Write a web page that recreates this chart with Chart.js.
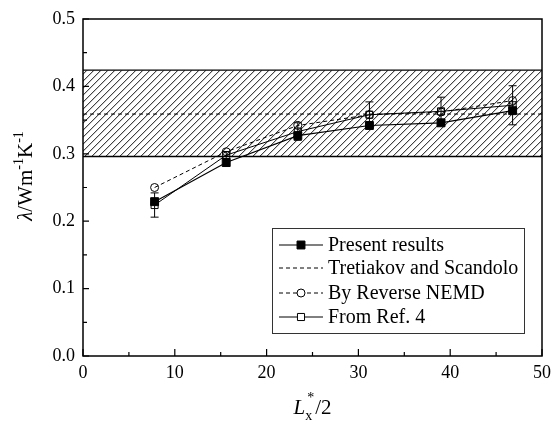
<!DOCTYPE html>
<html>
<head>
<meta charset="utf-8">
<script src="https://cdn.jsdelivr.net/npm/chart.js@4/dist/chart.umd.min.js"></script>
<style>
html,body{margin:0;padding:0;background:#fff;}
#wrap{width:557px;height:422px;position:relative;}
</style>
</head>
<body>
<div id="wrap"><canvas id="c" width="557" height="422"></canvas></div>
<script>
// ---- data ----
const xValues = [7.8, 15.6, 23.4, 31.2, 39.0, 46.8];
const presentResults = [0.229, 0.287, 0.327, 0.342, 0.346, 0.364];
const reverseNEMD = [0.250, 0.303, 0.342, 0.358, 0.362, 0.379];
const fromRef4 = [0.224, 0.298, 0.333, 0.358, 0.363, 0.372];
const fromRef4Err = [0.018, 0.005, 0.013, 0.019, 0.021, 0.029];
const tretiakovValue = 0.359;
const bandLow = 0.296;
const bandHigh = 0.424;
const xMajorTicks = [0, 10, 20, 30, 40, 50];
const xMinorTicks = [5, 15, 25, 35, 45];
const yMajorTicks = [0, 0.1, 0.2, 0.3, 0.4, 0.5];
const yMinorTicks = [0.05, 0.15, 0.25, 0.35, 0.45];
const legendLabels = ['Present results', 'Tretiakov and Scandolo', 'By Reverse NEMD', 'From Ref. 4'];

const FONT = '"Liberation Serif", "Times New Roman", serif';
Chart.defaults.font.family = FONT;
const pts = ys => xValues.map((x, i) => ({x: x, y: ys[i]}));

const decor = {
  id: 'decor',
  beforeDatasetsDraw(chart) {
    const {ctx, chartArea: a, scales: {x, y}} = chart;
    const yt = y.getPixelForValue(bandHigh), yb = y.getPixelForValue(bandLow);
    ctx.save();
    ctx.beginPath(); ctx.rect(a.left, yt, a.right - a.left, yb - yt); ctx.clip();
    ctx.strokeStyle = '#111'; ctx.lineWidth = 1;
    const h = yb - yt;
    for (let sx = a.left - h - 10; sx < a.right + 10; sx += 7) {
      ctx.beginPath(); ctx.moveTo(sx, yb); ctx.lineTo(sx + h, yt); ctx.stroke();
    }
    ctx.restore();
    ctx.save();
    ctx.strokeStyle = '#000'; ctx.lineWidth = 1.3;
    ctx.beginPath();
    ctx.moveTo(a.left, yt); ctx.lineTo(a.right, yt);
    ctx.moveTo(a.left, yb); ctx.lineTo(a.right, yb);
    ctx.stroke();
    // error bars
    ctx.lineWidth = 1;
    xValues.forEach((xv, i) => {
      const px = x.getPixelForValue(xv);
      const p1 = y.getPixelForValue(fromRef4[i] + fromRef4Err[i]);
      const p2 = y.getPixelForValue(fromRef4[i] - fromRef4Err[i]);
      ctx.beginPath();
      ctx.moveTo(px, p1); ctx.lineTo(px, p2);
      ctx.moveTo(px - 4, p1); ctx.lineTo(px + 4, p1);
      ctx.moveTo(px - 4, p2); ctx.lineTo(px + 4, p2);
      ctx.stroke();
    });
    ctx.restore();
  },
  afterDraw(chart) {
    const {ctx, chartArea: a, scales: {x, y}} = chart;
    ctx.save();
    ctx.strokeStyle = '#000'; ctx.lineWidth = 1.5;
    ctx.strokeRect(a.left, a.top, a.right - a.left, a.bottom - a.top);
    ctx.lineWidth = 1.2;
    ctx.beginPath();
    xMajorTicks.forEach(v => { const p = x.getPixelForValue(v); ctx.moveTo(p, a.bottom); ctx.lineTo(p, a.bottom - 7); });
    xMinorTicks.forEach(v => { const p = x.getPixelForValue(v); ctx.moveTo(p, a.bottom); ctx.lineTo(p, a.bottom - 4); });
    yMajorTicks.forEach(v => { const p = y.getPixelForValue(v); ctx.moveTo(a.left, p); ctx.lineTo(a.left + 6, p); });
    yMinorTicks.forEach(v => { const p = y.getPixelForValue(v); ctx.moveTo(a.left, p); ctx.lineTo(a.left + 4, p); });
    ctx.stroke();

    // legend
    const lx = 272, ly = 228, lw = 252, lh = 105;
    ctx.fillStyle = '#fff';
    ctx.fillRect(lx, ly, lw, lh);
    ctx.lineWidth = 1; ctx.strokeStyle = '#333';
    ctx.strokeRect(lx + 0.5, ly + 0.5, lw, lh);
    const rows = [245, 268, 293, 317];
    const ds = chart.data.datasets;
    ds.forEach((d, r) => {
      const yy = rows[r];
      ctx.save();
      ctx.strokeStyle = '#000';
      ctx.lineWidth = d.borderWidth;
      ctx.setLineDash(d.borderDash || []);
      ctx.beginPath(); ctx.moveTo(279, yy); ctx.lineTo(323, yy); ctx.stroke();
      ctx.restore();
      if (d.pointRadius > 0) {
        ctx.save();
        ctx.fillStyle = d.legendFill; ctx.strokeStyle = '#000'; ctx.lineWidth = 1;
        ctx.beginPath();
        if (d.pointStyle === 'circle') ctx.arc(301, yy, d.pointRadius, 0, Math.PI * 2);
        else { const s = d.pointRadius * Math.SQRT1_2; ctx.rect(301 - s, yy - s, 2 * s, 2 * s); }
        ctx.fill(); ctx.stroke();
        ctx.restore();
      }
      ctx.fillStyle = '#000';
      ctx.font = '20px ' + FONT;
      ctx.textBaseline = 'middle'; ctx.textAlign = 'left';
      ctx.fillText(legendLabels[r], 328, yy + 1);
    });

    // x axis title: L_x*/2
    ctx.fillStyle = '#000';
    ctx.textBaseline = 'alphabetic'; ctx.textAlign = 'left';
    const cx = (a.left + a.right) / 2;
    const base = 414;
    ctx.font = 'italic 21px ' + FONT; const wL = ctx.measureText('L').width;
    ctx.font = '14px ' + FONT; const wx = ctx.measureText('x').width;
    ctx.font = '21px ' + FONT; const w2 = ctx.measureText('/2').width;
    let sx = cx - (wL + wx + 3 + w2) / 2;
    ctx.font = 'italic 21px ' + FONT; ctx.fillText('L', sx, base); sx += wL;
    ctx.font = '14px ' + FONT; ctx.fillText('x', sx, base + 6); ctx.fillText('*', sx + 2, base - 12); sx += wx + 3;
    ctx.font = '21px ' + FONT; ctx.fillText('/2', sx, base);

    // y axis title: λ/Wm-1K-1
    ctx.save();
    ctx.translate(32, 176);
    ctx.rotate(-Math.PI / 2);
    const parts = [
      {t: 'λ', f: 'italic 21px ' + FONT, dy: 0},
      {t: '/Wm', f: '21px ' + FONT, dy: 0},
      {t: '-1', f: '14px ' + FONT, dy: -9},
      {t: 'K', f: '21px ' + FONT, dy: 0},
      {t: '-1', f: '14px ' + FONT, dy: -9}
    ];
    let tw = 0;
    parts.forEach(p => { ctx.font = p.f; p.w = ctx.measureText(p.t).width; tw += p.w; });
    let px = -tw / 2;
    parts.forEach(p => { ctx.font = p.f; ctx.fillText(p.t, px, p.dy); px += p.w; });
    ctx.restore();
    ctx.restore();
  }
};

new Chart(document.getElementById('c'), {
  type: 'scatter',
  data: {
    datasets: [
      {label: legendLabels[0], data: pts(presentResults), showLine: true, borderColor: '#000', borderWidth: 1.2,
       pointStyle: 'rect', pointRadius: 5.6, pointBackgroundColor: '#000', pointBorderColor: '#000', pointBorderWidth: 1, legendFill: '#000', order: 0},
      {label: legendLabels[1], data: [{x: 0, y: tretiakovValue}, {x: 50, y: tretiakovValue}], showLine: true,
       borderColor: '#000', borderWidth: 1, borderDash: [4, 3], pointRadius: 0, order: 3},
      {label: legendLabels[2], data: pts(reverseNEMD), showLine: true, borderColor: '#000', borderWidth: 1, borderDash: [4, 3],
       pointStyle: 'circle', pointRadius: 4, pointBackgroundColor: 'rgba(255,255,255,0)', pointBorderColor: '#000', pointBorderWidth: 1, legendFill: '#fff', order: 2},
      {label: legendLabels[3], data: pts(fromRef4), showLine: true, borderColor: '#000', borderWidth: 1,
       pointStyle: 'rect', pointRadius: 5, pointBackgroundColor: 'rgba(255,255,255,0)', pointBorderColor: '#000', pointBorderWidth: 1, legendFill: '#fff', order: 1}
    ]
  },
  options: {
    responsive: false,
    animation: false,
    layout: {padding: {left: 0, right: 10, top: 19, bottom: 0}},
    plugins: {legend: {display: false}, tooltip: {enabled: false}},
    scales: {
      x: {
        type: 'linear', min: 0, max: 50,
        afterFit: s => { s.height = 66; },
        afterBuildTicks: s => { s.ticks = xMajorTicks.map(v => ({value: v})); },
        grid: {display: true, drawOnChartArea: false, drawTicks: false},
        border: {display: false},
        ticks: {color: '#000', font: {family: FONT, size: 18}, padding: 6, maxRotation: 0, callback: v => String(v)}
      },
      y: {
        type: 'linear', min: 0, max: 0.5,
        afterFit: s => { s.width = 83; },
        afterBuildTicks: s => { s.ticks = yMajorTicks.map(v => ({value: v})); },
        grid: {display: true, drawOnChartArea: false, drawTicks: false},
        border: {display: false},
        ticks: {color: '#000', font: {family: FONT, size: 18}, padding: 8, callback: v => Number(v).toFixed(1)}
      }
    }
  },
  plugins: [decor]
});
</script>
</body>
</html>
